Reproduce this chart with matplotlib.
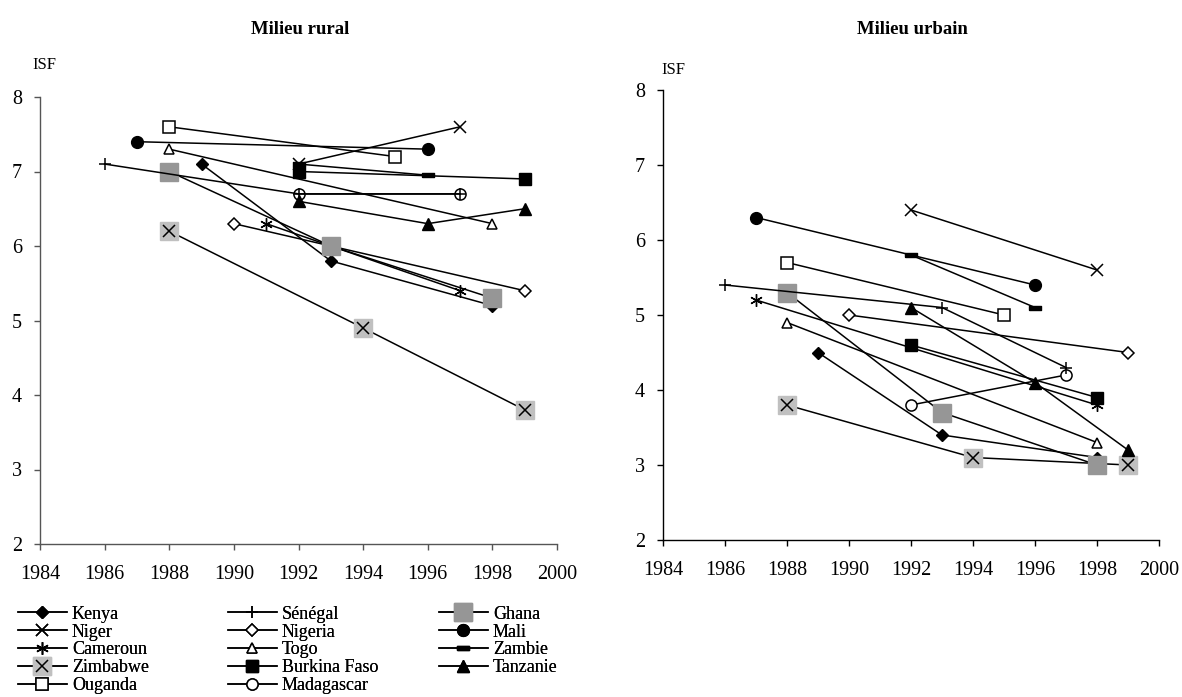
import numpy as np
import matplotlib.pyplot as plt
from matplotlib.legend_handler import HandlerTuple

plt.rcParams['font.family'] = ['Liberation Serif', 'DejaVu Serif']

# ---- data : ISF by country, rural and urban (year, value) ----
countries = ['Kenya', 'Niger', 'Cameroun', 'Zimbabwe', 'Ouganda',
             'Sénégal', 'Nigeria', 'Togo', 'Burkina Faso', 'Madagascar',
             'Ghana', 'Mali', 'Zambie', 'Tanzanie']

rural_years = {
    'Kenya': [1989, 1993, 1998], 'Niger': [1992, 1997], 'Cameroun': [1991, 1997],
    'Zimbabwe': [1988, 1994, 1999], 'Ouganda': [1988, 1995],
    'Sénégal': [1986, 1992, 1997], 'Nigeria': [1990, 1999], 'Togo': [1988, 1998],
    'Burkina Faso': [1992, 1999], 'Madagascar': [1992, 1997],
    'Ghana': [1988, 1993, 1998], 'Mali': [1987, 1996], 'Zambie': [1992, 1996],
    'Tanzanie': [1992, 1996, 1999],
}
rural_isf = {
    'Kenya': [7.1, 5.8, 5.2], 'Niger': [7.1, 7.6], 'Cameroun': [6.3, 5.4],
    'Zimbabwe': [6.2, 4.9, 3.8], 'Ouganda': [7.6, 7.2],
    'Sénégal': [7.1, 6.7, 6.7], 'Nigeria': [6.3, 5.4], 'Togo': [7.3, 6.3],
    'Burkina Faso': [7.0, 6.9], 'Madagascar': [6.7, 6.7],
    'Ghana': [7.0, 6.0, 5.3], 'Mali': [7.4, 7.3], 'Zambie': [7.1, 6.95],
    'Tanzanie': [6.6, 6.3, 6.5],
}

urban_years = {
    'Kenya': [1989, 1993, 1998], 'Niger': [1992, 1998], 'Cameroun': [1987, 1998],
    'Zimbabwe': [1988, 1994, 1999], 'Ouganda': [1988, 1995],
    'Sénégal': [1986, 1993, 1997], 'Nigeria': [1990, 1999], 'Togo': [1988, 1998],
    'Burkina Faso': [1992, 1998], 'Madagascar': [1992, 1997],
    'Ghana': [1988, 1993, 1998], 'Mali': [1987, 1996], 'Zambie': [1992, 1996],
    'Tanzanie': [1992, 1996, 1999],
}
urban_isf = {
    'Kenya': [4.5, 3.4, 3.1], 'Niger': [6.4, 5.6], 'Cameroun': [5.2, 3.8],
    'Zimbabwe': [3.8, 3.1, 3.0], 'Ouganda': [5.7, 5.0],
    'Sénégal': [5.4, 5.1, 4.3], 'Nigeria': [5.0, 4.5], 'Togo': [4.9, 3.3],
    'Burkina Faso': [4.6, 3.9], 'Madagascar': [3.8, 4.2],
    'Ghana': [5.3, 3.7, 3.0], 'Mali': [6.3, 5.4], 'Zambie': [5.8, 5.1],
    'Tanzanie': [5.1, 4.1, 3.2],
}

dash = [(-1, -0.35), (1, -0.35), (1, 0.35), (-1, 0.35), (-1, -0.35)]

# marker style per country
styles = {
    'Kenya': dict(marker='D', ms=6.5, mfc='k', mec='k'),
    'Niger': dict(marker='x', ms=8, mfc='k', mec='k', mew=1.1),
    'Cameroun': dict(marker=(6, 2, 0), ms=9, mfc='k', mec='k', mew=1.0),
    'Zimbabwe': dict(marker='s', ms=13, mfc='#c0c0c0', mec='#c0c0c0'),
    'Ouganda': dict(marker='s', ms=8, mfc='white', mec='k', mew=1.1),
    'Sénégal': dict(marker='+', ms=9, mfc='k', mec='k', mew=1.1),
    'Nigeria': dict(marker='D', ms=6, mfc='white', mec='k', mew=1.1),
    'Togo': dict(marker='^', ms=7.5, mfc='white', mec='k', mew=1.1),
    'Burkina Faso': dict(marker='s', ms=8, mfc='k', mec='k'),
    'Madagascar': dict(marker='o', ms=8, mfc='white', mec='k', mew=1.1),
    'Ghana': dict(marker='s', ms=13, mfc='#969696', mec='#969696'),
    'Mali': dict(marker='o', ms=8.5, mfc='k', mec='k'),
    'Zambie': dict(marker=dash, ms=9, mfc='k', mec='k'),
    'Tanzanie': dict(marker='^', ms=8, mfc='k', mec='k'),
}

fig = plt.figure(figsize=(11.82, 6.97), dpi=100)
ax1 = fig.add_axes([40 / 1182, 1 - 544 / 697, 517 / 1182, 447 / 697])
ax2 = fig.add_axes([663 / 1182, 1 - 540 / 697, 496 / 1182, 450 / 697])

handles = {}
for ax, yrs, vals, sc in [(ax1, rural_years, rural_isf, '#555555'),
                          (ax2, urban_years, urban_isf, 'k')]:
    for c in countries:
        z = 3 if c == 'Sénégal' else 2
        ln, = ax.plot(yrs[c], vals[c], color='k', lw=1.1, zorder=z, **styles[c])
        if c == 'Zimbabwe':
            cross, = ax.plot(yrs[c], vals[c], ls='none', marker='x', ms=8,
                             mec='k', mew=1.1, zorder=z)
            handles[c] = (ln, cross)
        else:
            handles[c] = ln

    ax.set_xlim(1984, 2000)
    ax.set_ylim(2, 8)
    ax.set_xticks(np.arange(1984, 2001, 2))
    ax.set_yticks(np.arange(2, 9, 1))
    for s in ['top', 'right']:
        ax.spines[s].set_visible(False)
    for s in ['left', 'bottom']:
        ax.spines[s].set_linewidth(1)
        ax.spines[s].set_color(sc)
    ax.tick_params(direction='out', length=4.5, width=1, color=sc,
                   labelsize=14.5)
    ax.tick_params(axis='x', pad=10.5)
    ax.tick_params(axis='y', pad=8.5)

fig.text(300 / 1182, 1 - 29 / 697, 'Milieu rural', ha='center', va='center',
         fontsize=13.5, fontweight='bold')
fig.text(912 / 1182, 1 - 29 / 697, 'Milieu urbain', ha='center', va='center',
         fontsize=13.5, fontweight='bold')
fig.text(44 / 1182, 1 - 65 / 697, 'ISF', ha='center', va='center', fontsize=12)
fig.text(673 / 1182, 1 - 70 / 697, 'ISF', ha='center', va='center', fontsize=12)

# legend : three columns placed below the left panel
cols = [countries[0:5], countries[5:10], countries[10:14]]
xpos = [18 / 1182, 228 / 1182, 439 / 1182]
for names, x in zip(cols, xpos):
    leg = fig.legend([handles[n] for n in names], names, loc='upper left',
                     bbox_to_anchor=(x, 0.131), frameon=False, fontsize=13,
                     handlelength=2.7, handletextpad=0.28, labelspacing=0.05,
                     borderpad=0, borderaxespad=0,
                     handler_map={tuple: HandlerTuple(ndivide=1)})
    fig.add_artist(leg)

fig.savefig('out.png', dpi=100)
